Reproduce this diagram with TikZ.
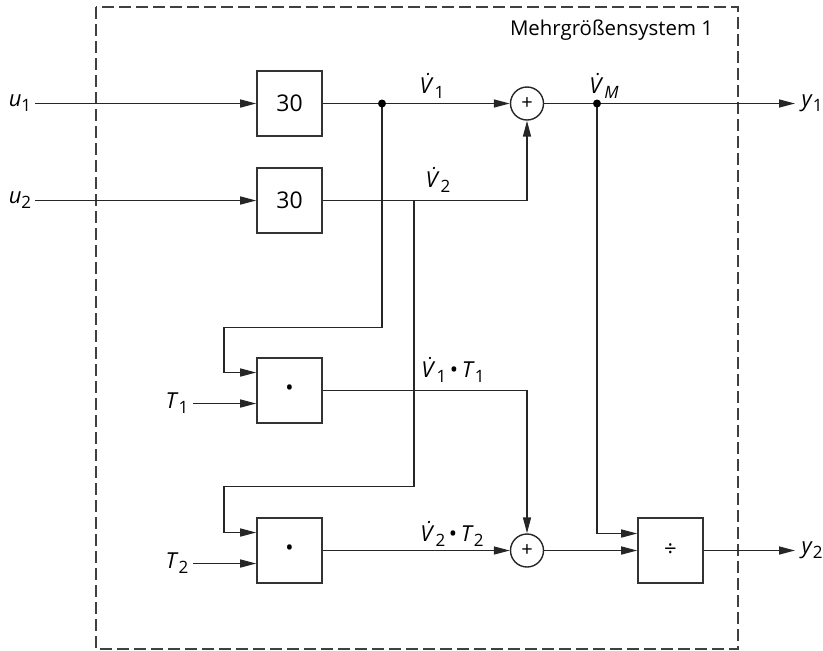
\documentclass[tikz,border=0pt]{standalone}
\usepackage{fontspec}
\setmainfont{Open Sans}
\usetikzlibrary{arrows.meta}
\newcommand{\Vd}{\textit{V\symbol{"0307}}}
\newcommand{\sbs}[1]{\raisebox{-0.45ex}{\fontsize{8.5}{9}\selectfont #1}}
\begin{document}
\begin{tikzpicture}[x=0.5pt,y=-0.5pt,
  every node/.style={font=\fontsize{11}{13}\selectfont},
  blk/.style={draw=black!80,line width=0.8pt,minimum width=32.5pt,minimum height=32.5pt,inner sep=0pt},
  sumc/.style={draw=black!85,circle,line width=0.7pt,minimum size=16.5pt,inner sep=0pt},
  lbl/.style={inner sep=0pt},
  sig/.style={line width=0.75pt,draw=black!85,-{Triangle[length=8pt,width=4pt]}},
  jdot/.style={circle,fill=black,inner sep=0pt,minimum size=4pt}]
\useasboundingbox (0,0) rectangle (823,650);
% frame
\draw[dash pattern=on 6pt off 2.5pt,line width=0.7pt,draw=black!75] (96,7) rectangle (738,649);
\node[lbl,font=\fontsize{10.2}{12}\selectfont] (title) at (611.5,30) {Mehrgrößensystem 1};
% blocks
\node[blk] (b1) at (289.5,103.5) {\fontsize{11.5}{13}\selectfont 30};
\node[blk] (b2) at (289.5,200.5) {\fontsize{11.5}{13}\selectfont 30};
\node[blk] (m1) at (289.5,390.5) {\textbullet};
\node[blk] (m2) at (289.5,550.5) {\textbullet};
\node[blk] (dv) at (670.5,550.5) {÷};
\node[sumc,font=\fontsize{10}{12}\selectfont] (s1) at (527,103.5) {+};
\node[sumc,font=\fontsize{10}{12}\selectfont] (s2) at (527,550.5) {+};
% input labels
\node[lbl] (u1) at (20,103) {\textit{u}\sbs{1}};
\node[lbl] (u2) at (20,200) {\textit{u}\sbs{2}};
\node[lbl] (t1) at (177,403) {\textit{T}\sbs{1}};
\node[lbl] (t2) at (177,563) {\textit{T}\sbs{2}};
\node[lbl] (y1) at (812,103) {\textit{y}\sbs{1}};
\node[lbl] (y2) at (812,550) {\textit{y}\sbs{2}};
% signal labels
\node[lbl] (lv1) at (432,86) {\Vd\sbs{1}};
\node[lbl] (lv2) at (438,180) {\Vd\sbs{2}};
\node[lbl] (lvm) at (604,86) {\Vd\sbs{\textit{M}}};
\node[lbl] (lvt1) at (453,370) {\Vd\sbs{1}\,\textbullet\,\textit{T}\sbs{1}};
\node[lbl] (lvt2) at (452,534) {\Vd\sbs{2}\,\textbullet\,\textit{T}\sbs{2}};
% coordinates
\coordinate (u1s) at (35,103.5);
\coordinate (u2s) at (35,200.5);
\coordinate (t1s) at (193,403.5);
\coordinate (t2s) at (193,563.5);
\coordinate (j1) at (382,103.5);
\coordinate (jm) at (597,103.5);
\coordinate (j2) at (414,200.5);
\coordinate (y1e) at (795,103.5);
\coordinate (y2e) at (795,550.5);
% connections
\draw[sig] (u1s) -- (b1);
\draw[sig] (u2s) -- (b2);
\draw[sig] (b1) -- (s1);
\draw[sig] (b2.east) -| (s1.south);
\draw[sig] (s1) -- (y1e);
\draw[sig] (j1) -- (382,327.5) -- (224,327.5) |- ([yshift=9pt]m1.west);
\draw[sig] (j2) -- (414,486.5) -- (224,486.5) |- ([yshift=9pt]m2.west);
\draw[sig] (t1s) -- (t1s -| m1.west);
\draw[sig] (t2s) -- (t2s -| m2.west);
\draw[sig] (m1.east) -| (s2.north);
\draw[sig] (m2) -- (s2);
\draw[sig] (s2) -- (dv);
\draw[sig] (jm) |- ([yshift=8.5pt]dv.west);
\draw[sig] (dv) -- (y2e);
\node[jdot] at (j1) {};
\node[jdot] at (jm) {};
\end{tikzpicture}
\end{document}
